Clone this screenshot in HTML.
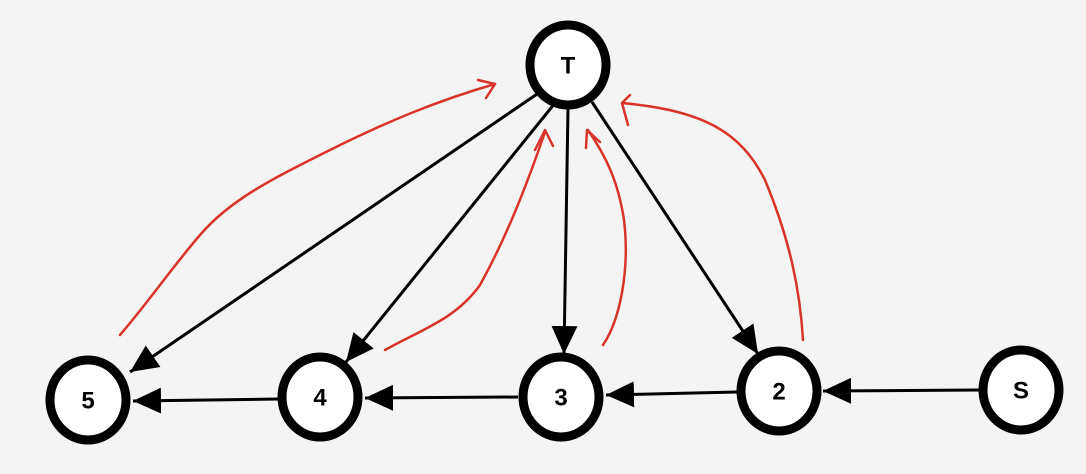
<!DOCTYPE html>
<html><head><meta charset="utf-8"><style>
html,body{margin:0;padding:0;background:#f4f4f4;}
svg{display:block;}
text{font-family:"Liberation Sans",sans-serif;font-weight:bold;font-size:24px;text-anchor:middle;dominant-baseline:central;fill:#000;}
</style></head><body>
<svg width="1086" height="474" viewBox="0 0 1086 474">
<defs>
<marker id="a" markerWidth="28" markerHeight="26" refX="10" refY="5" orient="auto" markerUnits="userSpaceOnUse" viewBox="0 0 10 10" preserveAspectRatio="none">
<path d="M0,0 L10,5 L0,10 z" fill="#000"/>
</marker>
</defs>
<g stroke="#000" stroke-width="3" fill="none">
<line x1="540" y1="92" x2="130" y2="372" marker-end="url(#a)" />
<line x1="555" y1="103" x2="346" y2="362" marker-end="url(#a)"/>
<line x1="568" y1="108" x2="564" y2="354" marker-end="url(#a)"/>
<line x1="592" y1="102" x2="758" y2="354" marker-end="url(#a)"/>
<line x1="278" y1="399" x2="133" y2="401" marker-end="url(#a)"/>
<line x1="518" y1="397" x2="365" y2="398" marker-end="url(#a)"/>
<line x1="737" y1="392" x2="606" y2="395" marker-end="url(#a)"/>
<line x1="979" y1="390" x2="823" y2="391" marker-end="url(#a)"/>
</g>
<g stroke="#d9342b" stroke-width="2.5" fill="none" stroke-linecap="round" stroke-linejoin="round">
<path d="M120,335 C150,300 170,270 200,235 C230,200 270,180 330,150 C390,120 440,100 495,84"/>
<path d="M478,80 L495,84 L486,98"/>
<path d="M385,350 C420,330 455,320 480,285 C505,240 525,190 545,132"/>
<path d="M535,150 L545,130 L553,146"/>
<path d="M603,345 C620,320 630,270 624,220 C618,180 605,155 588,130"/>
<path d="M586,148 L587,130 L600,142"/>
<path d="M803,340 C800,290 790,240 765,180 C740,130 700,110 622,103"/>
<path d="M630,95 L622,103 L628,125"/>
</g>
<g stroke="#000" stroke-width="9" fill="#fff">
<ellipse cx="568" cy="65" rx="38" ry="40"/>
<ellipse cx="88" cy="400" rx="38" ry="40"/>
<ellipse cx="320" cy="397" rx="38" ry="40"/>
<ellipse cx="561" cy="397" rx="38" ry="40"/>
<ellipse cx="779" cy="391" rx="38" ry="40"/>
<ellipse cx="1021" cy="390" rx="38" ry="40"/>
</g>
<text x="568" y="66">T</text>
<text x="88" y="401">5</text>
<text x="320" y="398">4</text>
<text x="561" y="398">3</text>
<text x="779" y="392">2</text>
<text x="1021" y="391">S</text>
</svg>
</body></html>
